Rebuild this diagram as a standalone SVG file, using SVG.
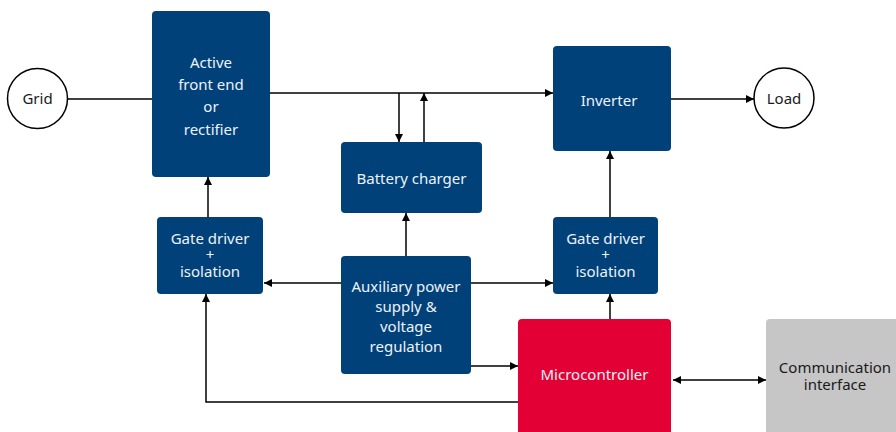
<svg xmlns="http://www.w3.org/2000/svg" width="896" height="432" viewBox="0 0 896 432">
<defs>
<marker id="arr" viewBox="0 0 10 10" refX="10" refY="5" markerWidth="8" markerHeight="8" markerUnits="userSpaceOnUse" orient="auto-start-reverse">
<path d="M0,0 L10,5 L0,10 z" fill="#000"/>
</marker>
<style>
.blk{fill:#00417a;}
.red{fill:#e30034;}
.gry{fill:#c6c6c6;}
.circ{fill:#fff;stroke:#000;stroke-width:1.5;}
.t{font-family:"Noto Sans","Open Sans",sans-serif;font-size:15px;text-anchor:middle;fill:#eef2f7;}
.td{font-family:"Noto Sans","Open Sans",sans-serif;font-size:15px;text-anchor:middle;fill:#1a1a1a;}
.ln{fill:none;stroke:#000;stroke-width:1.5;}
.a{marker-end:url(#arr);}
</style>
</defs>
<rect width="896" height="432" fill="#fff"/>
<g id="connectors">
<line class="ln" x1="67" y1="99" x2="152" y2="99"/>
<line class="ln a" x1="270" y1="93" x2="553" y2="93"/>
<line class="ln a" x1="399" y1="93" x2="399" y2="142"/>
<line class="ln a" x1="424" y1="142" x2="424" y2="93"/>
<line class="ln a" x1="671" y1="99" x2="754" y2="99"/>
<line class="ln a" x1="208" y1="217" x2="208" y2="177"/>
<line class="ln a" x1="406" y1="256" x2="406" y2="213"/>
<line class="ln a" x1="341" y1="283" x2="264" y2="283"/>
<line class="ln a" x1="471" y1="283" x2="553" y2="283"/>
<line class="ln a" x1="610" y1="217" x2="610" y2="151"/>
<line class="ln a" x1="610" y1="319" x2="610" y2="294"/>
<line class="ln a" x1="471" y1="366" x2="518" y2="366"/>
<polyline class="ln a" points="518,402 206,402 206,294"/>
<line class="ln a" x1="673" y1="380" x2="766" y2="380" style="marker-start:url(#arr)"/>
</g>
<g id="grid">
<circle class="circ" cx="37.5" cy="98.5" r="30"/>
<text class="td" x="37.5" y="104">Grid</text>
</g>
<g id="load">
<circle class="circ" cx="784" cy="98" r="30"/>
<text class="td" x="784" y="103.5">Load</text>
</g>
<g id="afe">
<rect class="blk" x="152" y="11" width="118" height="166" rx="4"/>
<text class="t"><tspan x="211" y="67.5">Active</tspan><tspan x="211" y="89.5">front end</tspan><tspan x="211" y="112">or</tspan><tspan x="211" y="134.5">rectifier</tspan></text>
</g>
<g id="inverter">
<rect class="blk" x="553" y="46" width="118" height="105" rx="4"/>
<text class="t" x="609" y="106">Inverter</text>
</g>
<g id="battery">
<rect class="blk" x="341" y="142" width="141" height="71" rx="4"/>
<text class="t" x="411.5" y="183.5">Battery charger</text>
</g>
<g id="gd-left">
<rect class="blk" x="157" y="217" width="106" height="77" rx="4"/>
<text class="t"><tspan x="210" y="244">Gate driver</tspan><tspan x="210" y="260">+</tspan><tspan x="210" y="276.5">isolation</tspan></text>
</g>
<g id="aux">
<rect class="blk" x="341" y="256" width="130" height="118" rx="4"/>
<text class="t"><tspan x="406" y="292">Auxiliary power</tspan><tspan x="406" y="312">supply &amp;</tspan><tspan x="406" y="332">voltage</tspan><tspan x="406" y="352">regulation</tspan></text>
</g>
<g id="gd-right">
<rect class="blk" x="553" y="217" width="105" height="77" rx="4"/>
<text class="t"><tspan x="605.5" y="244">Gate driver</tspan><tspan x="605.5" y="260">+</tspan><tspan x="605.5" y="276.5">isolation</tspan></text>
</g>
<g id="mcu">
<rect class="red" x="518" y="319" width="153" height="120" rx="4"/>
<text class="t" x="594.5" y="379.5">Microcontroller</text>
</g>
<g id="comm">
<rect class="gry" x="766" y="319" width="140" height="120" rx="4"/>
<text class="td"><tspan x="835" y="373">Communication</tspan><tspan x="835" y="390">interface</tspan></text>
</g>
</svg>
